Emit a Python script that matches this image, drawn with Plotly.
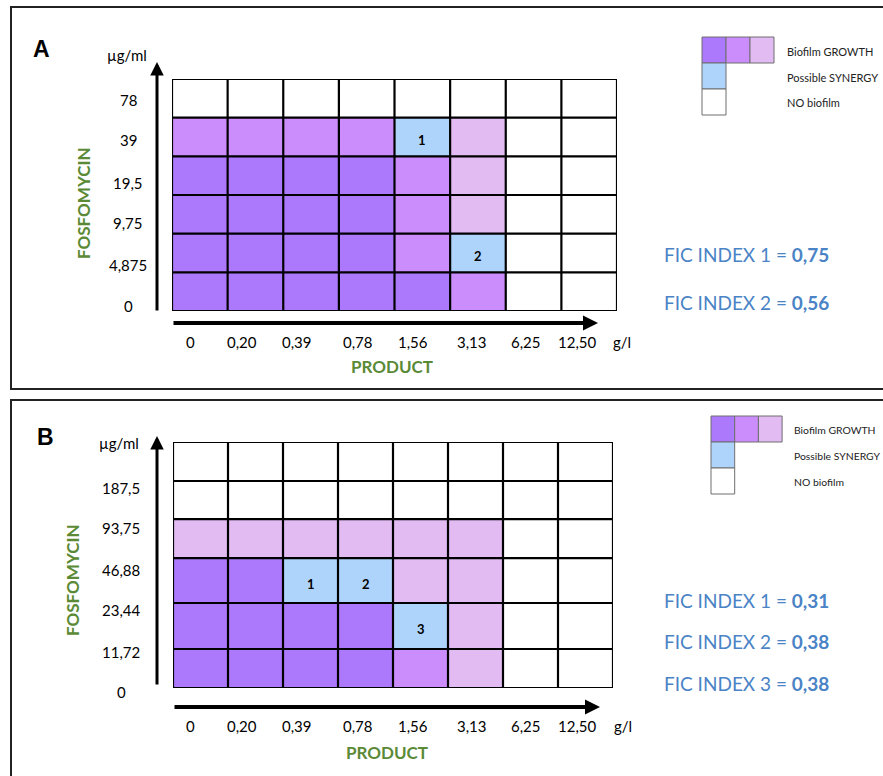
import plotly.graph_objects as go

W, H = 883, 776

# ---- data ---------------------------------------------------------------
PRODUCT_TICKS = ["0", "0,20", "0,39", "0,78", "1,56", "3,13", "6,25", "12,50"]
A_FOSFO_TICKS = ["0", "4,875", "9,75", "19,5", "39", "78"]
B_FOSFO_TICKS = ["0", "11,72", "23,44", "46,88", "93,75", "187,5"]

# well states, rows listed bottom -> top, columns follow PRODUCT_TICKS
# 0 = no biofilm, 1 = light growth, 2 = medium growth, 3 = strong growth, 4 = possible synergy
A_GRID = [
    [3, 3, 3, 3, 3, 2, 0, 0],
    [3, 3, 3, 3, 2, 4, 0, 0],
    [3, 3, 3, 3, 2, 1, 0, 0],
    [3, 3, 3, 3, 2, 1, 0, 0],
    [2, 2, 2, 2, 4, 1, 0, 0],
    [0, 0, 0, 0, 0, 0, 0, 0],
]
B_GRID = [
    [3, 3, 3, 3, 2, 1, 0, 0],
    [3, 3, 3, 3, 4, 1, 0, 0],
    [3, 3, 4, 4, 1, 1, 0, 0],
    [1, 1, 1, 1, 1, 1, 0, 0],
    [0, 0, 0, 0, 0, 0, 0, 0],
    [0, 0, 0, 0, 0, 0, 0, 0],
]

A_SYN_COLS = [4, 5]
A_SYN_ROWS = [4, 1]
A_SYN_LABELS = ["1", "2"]
B_SYN_COLS = [2, 3, 4]
B_SYN_ROWS = [2, 2, 1]
B_SYN_LABELS = ["1", "2", "3"]

A_FIC = ["0,75", "0,56"]
B_FIC = ["0,31", "0,38", "0,38"]

LEGEND_LABELS = ["Biofilm GROWTH", "Possible SYNERGY", "NO biofilm"]

# ---- styling ------------------------------------------------------------
STATE_COLORS = ["#ffffff", "#e2bbf3", "#cc8dfc", "#ac78fc", "#aed4fb"]
GREEN = "#5b8a36"
BLUE = "#4a83c6"
FONT = "Lato"


def px(x):
    return x / W


def py(y):
    return 1 - y / H


def label(x, y, text, size, color="#000", family=FONT, xanchor="center", **kw):
    return dict(xref="paper", yref="paper", x=px(x), y=py(y), text=text, showarrow=False,
                xanchor=xanchor, yanchor="middle",
                font=dict(family=family, size=size, color=color), **kw)


fig = go.Figure()
annotations = []
shapes = []

panels = [
    dict(name="A", grid=A_GRID, yticks=A_FOSFO_TICKS, syn=(A_SYN_COLS, A_SYN_ROWS, A_SYN_LABELS),
         fic=A_FIC, box=(172, 79, 617, 311), row_edges=[0, 1, 2, 3, 4, 5, 6],
         frame=(11, 7, 905, 389), letter=(41, 49), unit=(127, 55), ylab_x=128,
         ylab_y=[306, 265, 223, 183, 140, 100], fosfo=(84, 203), xlab_y=342,
         xlab_x=[190, 242, 297, 358, 413, 472, 526, 577], gl=(622, 342), product=(392, 366),
         yarrow=(157, 62, 312), xarrow=(323, 172, 598), fic_y=[255, 303],
         legend=(702, 37, 24, 26), legend_text=(785, [52, 78, 103]), legend_size=11),
    dict(name="B", grid=B_GRID, yticks=B_FOSFO_TICKS, syn=(B_SYN_COLS, B_SYN_ROWS, B_SYN_LABELS),
         fic=B_FIC, box=(173, 442, 613, 688), row_edges=[0, 1, 2.18, 3.33, 4.33, 5.31, 6.31],
         frame=(11, 400, 905, 800), letter=(45, 437), unit=(119, 443), ylab_x=121,
         ylab_y=[692, 652, 610, 570, 528, 488], fosfo=(72, 580), xlab_y=726,
         xlab_x=[190, 242, 297, 358, 413, 472, 526, 577], gl=(623, 726), product=(387, 752),
         yarrow=(157, 436, 686), xarrow=(707, 173, 600), fic_y=[600, 641, 683],
         legend=(711, 416, 23.7, 26), legend_text=(792, [430, 456, 482]), legend_size=10.4),
]

for i, p in enumerate(panels):
    sfx = "" if i == 0 else str(i + 1)
    xa, ya = "x" + sfx, "y" + sfx
    x0, y0, x1, y1 = p["box"]
    edges = p["row_edges"]
    ncols = len(PRODUCT_TICKS)

    fig.add_trace(go.Heatmap(
        z=p["grid"], x=list(range(ncols + 1)), y=edges,
        zmin=0, zmax=4,
        colorscale=[[k / 4, c] for k, c in enumerate(STATE_COLORS)],
        showscale=False, hoverinfo="skip", xaxis=xa, yaxis=ya,
    ))
    fig.update_layout(**{
        "xaxis" + sfx: dict(domain=[px(x0), px(x1)], range=[0, ncols], visible=False,
                            anchor=ya, fixedrange=True),
        "yaxis" + sfx: dict(domain=[py(y1), py(y0)], range=[0, edges[-1]], visible=False,
                            anchor=xa, fixedrange=True),
    })

    # well borders
    for c in range(ncols + 1):
        shapes.append(dict(type="line", xref=xa, yref=ya, x0=c, x1=c, y0=0, y1=edges[-1],
                           line=dict(color="#000", width=2.2)))
    for e in edges:
        shapes.append(dict(type="line", xref=xa, yref=ya, x0=0, x1=ncols, y0=e, y1=e,
                           line=dict(color="#000", width=2.2)))

    # synergy well numbers
    cols, rows, labels = p["syn"]
    for c, r, t in zip(cols, rows, labels):
        annotations.append(dict(xref=xa, yref=ya, x=c + 0.5, y=(edges[r] + edges[r + 1]) / 2,
                                text=f"<b>{t}</b>", showarrow=False, yshift=-3,
                                xanchor="center", yanchor="middle",
                                font=dict(family=FONT, size=13, color="#000")))

    # panel frame
    fx0, fy0, fx1, fy1 = p["frame"]
    shapes.append(dict(type="rect", xref="paper", yref="paper", x0=px(fx0), x1=px(fx1),
                       y0=py(fy1), y1=py(fy0), line=dict(color="#222", width=2)))

    # panel letter and units
    annotations.append(label(*p["letter"], "<b>" + p["name"] + "</b>", 23, family="Liberation Sans"))
    annotations.append(label(*p["unit"], "µg/ml", 15))

    # fosfomycin concentrations
    for t, yy in zip(p["yticks"], p["ylab_y"]):
        annotations.append(label(p["ylab_x"], yy, t, 15))
    annotations.append(label(*p["fosfo"], "<b>FOSFOMYCIN</b>", 17, GREEN, textangle=-90))

    # product concentrations
    for t, xx in zip(PRODUCT_TICKS, p["xlab_x"]):
        annotations.append(label(xx, p["xlab_y"], t, 15))
    annotations.append(label(*p["gl"], "g/l", 15))
    annotations.append(label(*p["product"], "<b>PRODUCT</b>", 17, GREEN))

    # axis arrows
    ax_x, ay_top, ay_bot = p["yarrow"]
    annotations.append(dict(xref="paper", yref="paper", x=px(ax_x), y=py(ay_top),
                            ax=0, ay=ay_bot - ay_top, axref="pixel", ayref="pixel",
                            showarrow=True, arrowhead=2, arrowsize=0.9, arrowwidth=3,
                            arrowcolor="#000", text=""))
    bx_y, bx_left, bx_right = p["xarrow"]
    annotations.append(dict(xref="paper", yref="paper", x=px(bx_right), y=py(bx_y),
                            ax=-(bx_right - bx_left), ay=0, axref="pixel", ayref="pixel",
                            showarrow=True, arrowhead=2, arrowsize=0.75, arrowwidth=4,
                            arrowcolor="#000", text=""))

    # FIC indices
    for k, (v, yy) in enumerate(zip(p["fic"], p["fic_y"])):
        annotations.append(label(662, yy, f"FIC INDEX {k + 1} = <b>{v}</b>", 19, BLUE,
                                 xanchor="left"))

    # colour key
    lx, ly, lw, lh = p["legend"]
    key_cells = [(0, 0, 3), (1, 0, 2), (2, 0, 1), (0, 1, 4), (0, 2, 0)]
    for cx, cy, state in key_cells:
        shapes.append(dict(type="rect", xref="paper", yref="paper",
                           x0=px(lx + cx * lw), x1=px(lx + (cx + 1) * lw),
                           y0=py(ly + (cy + 1) * lh), y1=py(ly + cy * lh),
                           fillcolor=STATE_COLORS[state], line=dict(color="#6e6e6e", width=1)))
    tx, tys = p["legend_text"]
    for t, yy in zip(LEGEND_LABELS, tys):
        annotations.append(label(tx, yy, t, p["legend_size"], "#222", xanchor="left"))

fig.update_layout(
    width=W, height=H, margin=dict(l=0, r=0, t=0, b=0),
    paper_bgcolor="#ffffff", plot_bgcolor="#ffffff",
    shapes=shapes, annotations=annotations, showlegend=False,
)

fig.write_html("out.html")
